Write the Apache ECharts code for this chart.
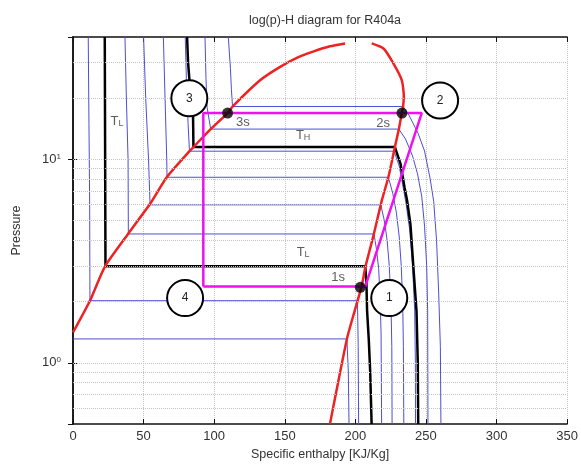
<!DOCTYPE html>
<html>
<head>
<meta charset="utf-8">
<title>log(p)-H diagram for R404a</title>
<script src="https://cdn.jsdelivr.net/npm/echarts@6/dist/echarts.min.js"></script>
<style>
html,body{margin:0;padding:0;background:#fff}
#chart{width:581px;height:466px}
</style>
</head>
<body>
<div id="chart"></div>
<script>
// axis ticks / grid
var yTickValues = [1, 10];
var yTickExps = ['0', '1'];
var gridP = [0.6, 0.7, 0.8, 0.9, 1, 2, 3, 4, 5, 6, 7, 8, 9, 10, 20, 30];

// saturation dome (h, p)
var satLiquid = [[0,1.41],[12,2.02],[22.7,2.98],[39,4.3],[54.6,6.05],[66.4,8.18],[82.5,10.98],[85.3,11.5],[97.5,14.1],[109.5,16.9],[113,18.2],[132.5,24.5],[147,28.6],[160,31.9],[170,33.9],[182,36],[192.7,37.2]];
var satVapor = [[211.6,37.2],[219.9,35.1],[227,29.6],[232.9,24.5],[234.3,20.5],[233.8,18.2],[232.9,16.9],[230.8,14.1],[228,11.5],[223.4,8.2],[218.7,6.27],[212.8,4.22],[207.2,2.98],[204.5,2.39],[199.5,1.8],[194,1.31],[182,0.5]];

// isotherms (blue)
var isoM40 = [[0,1.31],[194,1.31],[195,0.9],[195.5,0.5]];
var isoM30 = [[10.8,40],[11.3,15],[11.8,6],[12,2.02],[201.5,2.02],[202,1.2],[202.3,0.5]];
var isoM10 = [[36.8,40],[37.8,20],[39,10],[39.2,4.3],[213.2,4.3],[215,3.6],[216.5,2.9],[217.5,2.1],[218.2,1.4],[218.6,0.5]];
var iso0 = [[50,40],[51.5,20],[53.5,10],[54.6,5.98],[218,5.98],[220.5,5],[222.5,4],[224,3],[225.2,2],[225.8,1.2],[226,0.5]];
var iso10 = [[64,40],[65.2,20],[66.4,10],[66.6,8.17],[223.4,8.17],[226.5,6.8],[229,5.5],[231,4.2],[232.5,3],[233.5,2],[234,1.2],[234.3,0.5]];
var iso20 = [[79.5,40],[80.3,25],[81.5,15],[82.5,10.98],[227.4,10.98],[231,9.3],[233.5,7.5],[236,6],[238.5,4.5],[240.5,3],[242,1.8],[242.5,1],[242.6,0.5]];
var iso30 = [[93.5,40],[94.2,25],[95,18],[97.5,14.1],[230.8,14.1],[235.5,12.6],[240.5,10.4],[244,8.5],[247,6.6],[249,4.7],[250.5,3],[251.2,1.8],[251.4,0.5]];
var iso40 = [[110,40],[111.5,28],[112.2,22],[113,18.2],[233.8,18.2],[238,16.5],[244.5,13.4],[249,11],[253,8],[255.5,6.2],[257.5,4],[259,2.2],[260.2,1.2],[260.6,0.5]];

// T_L and T_H (black)
var isoTL = [[22.5,40],[23,2.98],[207,2.98],[207.8,2.5],[208.3,1.8],[209.5,1.3],[210.5,0.9],[211.5,0.5]];
var isoTH = [[80.8,40],[81.5,30],[83,22],[85,17],[85.3,11.5],[228,11.5],[232,9.5],[234.8,7.3],[236.6,6.3],[239,4.8],[241.1,2.95],[243.3,1.8],[244.2,1],[244.5,0.5]];

// cycle 1-2-3-4
var cycle = [[92.3,2.37],[207,2.37],[247,16.9],[92.3,16.9],[92.3,2.37]];
var satPoints = [[109.5,16.9],[233,16.9],[203.5,2.35]];
var stateCircles = [[224,2.08,'1'],[260,19.5,'2'],[82.4,20,'3'],[79.4,2.08,'4']];
var textLabels = [[120.4,15.2,'3s',''],[219.6,15.1,'2s',''],[187.8,2.63,'1s',''],[163,13.1,'T','H'],[31.2,15.3,'T','L'],[163,3.49,'T','L']];

var font = 'Liberation Sans, Arial, sans-serif';
var chart = echarts.init(document.getElementById('chart'));

function isoSeries(data, color, width){
	return {
		type:'line', data:data, symbol:'none', silent:true, z:3,
		lineStyle:{color:color, width:width}
	};
}

var series = [];
//网格线
series.push({
	type:'line', data:[], silent:true, z:1,
	markLine:{
		silent:true, symbol:'none', label:{show:false}, animation:false,
		lineStyle:{color:'#c4c4c4', type:'dotted', width:1},
		data:gridP.map(function(v){ return {yAxis:v}; })
	}
});
[isoM40, isoM30, isoM10, iso0, iso10, iso20, iso30, iso40].forEach(function(d){
	series.push(isoSeries(d, '#4d4dd6', 1));
});
series.push(isoSeries(isoTL, '#000', 2.5));
series.push(isoSeries(isoTH, '#000', 2.5));
//饱和线
series.push({type:'line', data:satLiquid, symbol:'none', smooth:0.2, silent:true, z:4, lineStyle:{color:'#ee2222', width:2.5}});
series.push({type:'line', data:satVapor, symbol:'none', smooth:0.2, silent:true, z:4, lineStyle:{color:'#ee2222', width:2.5}});
series.push({type:'line', data:cycle, symbol:'none', silent:true, z:5, lineStyle:{color:'#ee11ee', width:2.5}});
series.push({
	type:'scatter', data:satPoints, symbol:'circle', symbolSize:11, z:6,
	itemStyle:{color:'#000'}
});
series.push({
	type:'scatter', data:stateCircles, symbol:'circle', symbolSize:36, z:7,
	itemStyle:{color:'#fff', borderColor:'#000', borderWidth:2, opacity:1},
	label:{show:true, position:'inside', color:'#222', fontSize:12, fontFamily:font,
		formatter:function(p){ return p.value[2]; }}
});
series.push({
	type:'scatter', data:textLabels, symbol:'circle', symbolSize:1, z:8,
	itemStyle:{color:'transparent'},
	label:{show:true, position:'inside', color:'#333', fontSize:13, fontFamily:font,
		formatter:function(p){
			var v = p.value;
			return '{t|' + v[2] + '}' + (v[3] ? '{sub|' + v[3] + '}' : '');
		},
		rich:{
			t:{fontSize:13, lineHeight:13, verticalAlign:'top', color:'#333', fontFamily:font},
			sub:{fontSize:9, lineHeight:9, padding:[8,0,0,0], verticalAlign:'bottom', color:'#333', fontFamily:font}
		}}
});

var option = {
	animation:false,
	backgroundColor:'#fff',
	title:{
		text:'log(p)-H diagram for R404a', left:320, top:9, textAlign:'center',
		textStyle:{fontSize:12.5, fontWeight:'normal', color:'#333', fontFamily:font}
	},
	grid:{left:73, right:13, top:37, bottom:40},
	xAxis:[{
		type:'value', min:0, max:350, interval:50,
		name:'Specific enthalpy [KJ/Kg]', nameLocation:'middle', nameGap:24,
		nameTextStyle:{fontSize:12.5, color:'#333', fontFamily:font},
		axisLine:{lineStyle:{color:'#111', width:1.5}},
		axisTick:{inside:true, length:5, lineStyle:{color:'#111'}},
		axisLabel:{fontSize:13, color:'#333', margin:6, fontFamily:font},
		splitLine:{show:true, lineStyle:{color:'#c4c4c4', type:'dotted'}}
	},{
		type:'value', min:0, max:350, interval:50, position:'top',
		axisLine:{lineStyle:{color:'#111', width:1.5}},
		axisTick:{inside:true, length:5, lineStyle:{color:'#111'}},
		axisLabel:{show:false}, splitLine:{show:false}
	}],
	yAxis:[{
		type:'log', logBase:10, min:0.5, max:40,
		name:'Pressure', nameLocation:'middle', nameGap:50, nameRotate:90,
		nameTextStyle:{fontSize:12.5, color:'#333', fontFamily:font},
		axisLine:{lineStyle:{color:'#111', width:1.5}},
		axisTick:{inside:true, length:5, lineStyle:{color:'#111'}},
		axisLabel:{
			margin:12, showMinLabel:false, showMaxLabel:false,
			formatter:function(v){
				for(var i=0;i<yTickValues.length;i++){
					if(Math.abs(v - yTickValues[i]) < 1e-6) return '{b|10}{s|' + yTickExps[i] + '}';
				}
				return '';
			},
			rich:{
				b:{fontSize:13, lineHeight:13, verticalAlign:'bottom', color:'#333', fontFamily:font},
				s:{fontSize:8, lineHeight:8, padding:[0,0,10,0], verticalAlign:'top', color:'#333', fontFamily:font}
			}
		},
		splitLine:{show:false}
	},{
		type:'log', logBase:10, min:0.5, max:40, position:'right',
		axisLine:{lineStyle:{color:'#111', width:1.5}},
		axisTick:{inside:true, length:5, lineStyle:{color:'#111'}},
		axisLabel:{show:false}, splitLine:{show:false}
	}],
	series:series
};

chart.setOption(option);
</script>
</body>
</html>
